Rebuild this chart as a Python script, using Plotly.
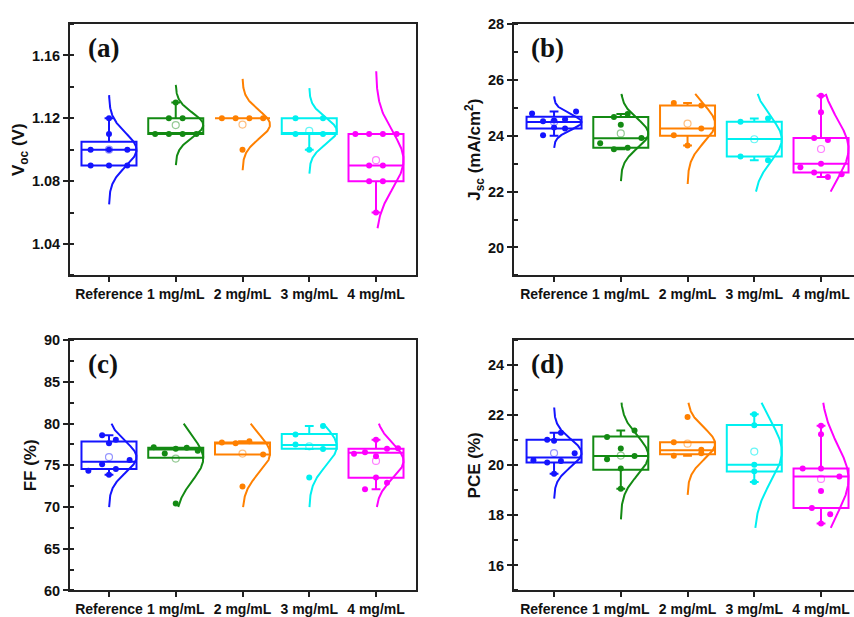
import numpy as np
import plotly.graph_objects as go

categories = ["Reference", "1 mg/mL", "2 mg/mL", "3 mg/mL", "4 mg/mL"]
colors = ["#1414ff", "#138a13", "#ff8000", "#00f0f0", "#ff00ff"]
mean_colors = ["rgba(20,20,255,0.45)", "rgba(19,138,19,0.45)", "rgba(255,128,0,0.5)",
               "rgba(0,240,240,0.6)", "rgba(255,0,255,0.5)"]

# ---------------- (a) Voc (V) ----------------
voc_points = [
    [1.09, 1.09, 1.09, 1.10, 1.10, 1.10, 1.11, 1.12],
    [1.11, 1.11, 1.11, 1.11, 1.12, 1.12, 1.13],
    [1.12, 1.12, 1.12, 1.12, 1.10],
    [1.12, 1.12, 1.11, 1.11, 1.10],
    [1.11, 1.11, 1.11, 1.11, 1.09, 1.09, 1.08, 1.08, 1.06],
]
voc_q1 = [1.09, 1.11, 1.12, 1.11, 1.08]
voc_median = [1.10, 1.11, 1.12, 1.11, 1.09]
voc_q3 = [1.105, 1.12, 1.12, 1.12, 1.11]
voc_low = [1.09, 1.11, 1.12, 1.10, 1.06]
voc_high = [1.12, 1.13, 1.12, 1.12, 1.11]

# ---------------- (b) Jsc (mA/cm2) ----------------
jsc_points = [
    [24.80, 24.52, 24.55, 24.59, 24.87, 24.02, 24.30, 24.26],
    [23.73, 23.52, 23.57, 23.92, 24.67, 24.78, 24.39],
    [25.17, 25.08, 24.02, 24.26, 23.65],
    [24.50, 24.62, 23.26, 23.12],
    [25.43, 24.84, 23.92, 23.85, 23.00, 22.87, 22.68, 22.52, 22.62],
]
jsc_q1 = [24.26, 23.57, 24.00, 23.26, 22.68]
jsc_median = [24.49, 23.91, 24.26, 23.88, 23.00]
jsc_q3 = [24.68, 24.67, 25.08, 24.50, 23.92]
jsc_low = [24.00, 23.52, 23.65, 23.12, 22.52]
jsc_high = [24.87, 24.78, 25.17, 24.62, 25.43]

# ---------------- (c) FF (%) ----------------
ff_points = [
    [78.6, 78.06, 77.66, 74.36, 75.13, 74.56, 75.64, 73.86],
    [77.18, 76.42, 77.0, 77.12, 76.75, 70.42],
    [77.74, 77.66, 77.9, 76.3, 72.45],
    [78.7, 79.7, 77.5, 76.95, 73.55],
    [76.4, 76.58, 76.1, 77.0, 77.05, 78.06, 72.14, 73.55, 72.9],
]
ff_q1 = [74.56, 75.91, 76.30, 77.00, 73.50]
ff_median = [75.42, 76.90, 77.66, 77.45, 76.50]
ff_q3 = [77.86, 77.10, 77.74, 78.76, 77.00]
ff_low = [73.86, 75.91, 76.30, 76.95, 72.14]
ff_high = [78.60, 77.10, 77.90, 79.70, 78.06]

# ---------------- (d) PCE (%) ----------------
pce_points = [
    [20.2, 20.11, 20.17, 20.48, 20.98, 21.02, 21.3, 19.66],
    [21.13, 21.39, 20.24, 20.37, 20.67, 19.87, 19.06],
    [20.92, 20.62, 20.38, 20.48, 21.93],
    [22.04, 21.6, 20.02, 19.76, 19.33],
    [19.87, 19.87, 19.55, 21.24, 21.58, 18.97, 18.3, 18.05, 17.68],
]
pce_q1 = [20.11, 19.82, 20.44, 19.75, 18.30]
pce_median = [20.31, 20.37, 20.60, 20.02, 19.55]
pce_q3 = [21.02, 21.15, 20.92, 21.61, 19.87]
pce_low = [19.66, 19.06, 20.38, 19.33, 17.68]
pce_high = [21.30, 21.39, 20.92, 22.04, 21.58]

panels = [
    dict(pts=voc_points, q1=voc_q1, med=voc_median, q3=voc_q3, lo=voc_low, hi=voc_high,
         bin=0.01, clip=(1.05, 1.15), label="(a)", ax=1,
         title="V<sub>oc</sub> (V)", yrange=[1.02, 1.18], dtick=0.04, minor=0.02, fmt=".2f"),
    dict(pts=jsc_points, q1=jsc_q1, med=jsc_median, q3=jsc_q3, lo=jsc_low, hi=jsc_high,
         bin=0.5, clip=(22.0, 25.5), label="(b)", ax=2,
         title="J<sub>sc</sub> (mA/cm<sup>2</sup>)", yrange=[19, 28], dtick=2, minor=1, fmt="d"),
    dict(pts=ff_points, q1=ff_q1, med=ff_median, q3=ff_q3, lo=ff_low, hi=ff_high,
         bin=2.0, clip=(70.0, 80.0), label="(c)", ax=3,
         title="FF (%)", yrange=[60, 90], dtick=5, minor=2.5, fmt="d"),
    dict(pts=pce_points, q1=pce_q1, med=pce_median, q3=pce_q3, lo=pce_low, hi=pce_high,
         bin=0.5, clip=(17.5, 22.5), label="(d)", ax=4,
         title="PCE (%)", yrange=[15, 25], dtick=2, minor=1, fmt="d"),
]

BOXW = 0.824
HALF = BOXW / 2


def jitter(vals, bw):
    v = np.asarray(vals, dtype=float)
    keys = np.floor(v / bw + 1e-6).astype(int)
    uniq, counts = np.unique(keys, return_counts=True)
    cnt = dict(zip(uniq, counts))
    step = BOXW / counts.max()
    seen = {}
    offs = []
    for k in keys:
        j = seen.get(k, 0)
        seen[k] = j + 1
        offs.append((j - (cnt[k] - 1) / 2) * step)
    return np.array(offs)


fig = go.Figure()

for p in panels:
    xa = "x" if p["ax"] == 1 else "x%d" % p["ax"]
    ya = "y" if p["ax"] == 1 else "y%d" % p["ax"]
    for i, cat in enumerate(categories):
        col = colors[i]
        fig.add_trace(go.Box(
            x=[i], q1=[p["q1"][i]], median=[p["med"][i]], q3=[p["q3"][i]],
            lowerfence=[p["lo"][i]], upperfence=[p["hi"][i]],
            width=BOXW, whiskerwidth=0.16, boxpoints=False,
            line=dict(color=col, width=2), fillcolor="rgba(0,0,0,0)",
            xaxis=xa, yaxis=ya, showlegend=False, hoverinfo="skip"))
    for i, cat in enumerate(categories):
        col = colors[i]
        vals = np.asarray(p["pts"][i], dtype=float)
        mu = vals.mean()
        sd = vals.std(ddof=1)
        ylo = max(p["clip"][0], mu - 3.25 * sd)
        yhi = min(p["clip"][1], mu + 3.25 * sd)
        yy = np.linspace(ylo, yhi, 160)
        xx = i + HALF * np.exp(-0.5 * ((yy - mu) / sd) ** 2)
        fig.add_trace(go.Scatter(x=xx, y=yy, mode="lines", line=dict(color=col, width=2),
                                 xaxis=xa, yaxis=ya, showlegend=False, hoverinfo="skip"))
        fig.add_trace(go.Scatter(x=i + jitter(vals, p["bin"]), y=vals, mode="markers",
                                 marker=dict(color=col, size=6, line=dict(width=0)),
                                 xaxis=xa, yaxis=ya, showlegend=False, hoverinfo="skip"))
        fig.add_trace(go.Scatter(x=[i], y=[mu], mode="markers",
                                 marker=dict(symbol="circle-open", color=mean_colors[i], size=7,
                                             line=dict(width=1.2, color=mean_colors[i])),
                                 xaxis=xa, yaxis=ya, showlegend=False, hoverinfo="skip"))

W, H = 854, 617
left_dom = [70 / W, 416 / W]
right_dom = [514 / W, 1.0]
top_dom = [(H - 274.5) / H, (H - 16.5) / H]
bot_dom = [(H - 598) / H, (H - 341) / H]

tickfont = dict(family="Liberation Sans, Arial, sans-serif", size=14.5, color="#111", weight="bold")
xtickfont = dict(family="Liberation Sans, Arial, sans-serif", size=14, color="#111", weight="bold")
titlefont = dict(family="Liberation Sans, Arial, sans-serif", size=17, color="#111", weight="bold")

layout = dict(width=W, height=H, margin=dict(l=0, r=0, t=0, b=0),
              paper_bgcolor="white", plot_bgcolor="white", boxmode="overlay",
              showlegend=False)

for p in panels:
    n = p["ax"]
    xkey = "xaxis" if n == 1 else "xaxis%d" % n
    ykey = "yaxis" if n == 1 else "yaxis%d" % n
    is_right = n in (2, 4)
    is_top = n in (1, 2)
    xr = [-0.6, 4.494] if is_right else [-0.584, 4.599]
    layout[xkey] = dict(
        domain=right_dom if is_right else left_dom,
        anchor="y" if n == 1 else "y%d" % n,
        range=xr, tickmode="array", tickvals=list(range(5)), ticktext=categories,
        tickangle=0,
        showline=True, mirror=True, linecolor="#222", linewidth=1.8,
        ticks="outside", ticklen=5, tickwidth=1.5, tickcolor="#222",
        showgrid=False, zeroline=False, tickfont=xtickfont, fixedrange=True)
    layout[ykey] = dict(
        domain=top_dom if is_top else bot_dom,
        anchor="x" if n == 1 else "x%d" % n,
        range=p["yrange"], tick0=0, dtick=p["dtick"], tickformat=p["fmt"],
        showline=True, mirror=(not is_right), linecolor="#222", linewidth=1.8,
        ticks="outside", ticklen=5, tickwidth=1.5, tickcolor="#222",
        minor=dict(dtick=p["minor"], tick0=0, ticks="inside", ticklen=4, tickwidth=1.5,
                   tickcolor="#222", showgrid=False),
        showgrid=False, zeroline=False, tickfont=tickfont,
        title=dict(text=p["title"], font=titlefont, standoff=3), fixedrange=True)

fig.update_layout(**layout)

for p in panels:
    n = p["ax"]
    xr = "x domain" if n == 1 else "x%d domain" % n
    yr = "y domain" if n == 1 else "y%d domain" % n
    fig.add_annotation(text="<b>%s</b>" % p["label"], xref=xr, yref=yr, x=0.045, y=0.905,
                       xanchor="left", yanchor="middle", showarrow=False,
                       font=dict(family="Liberation Serif, Times New Roman, serif", size=27, color="#111"))

fig.write_html("out.html")
